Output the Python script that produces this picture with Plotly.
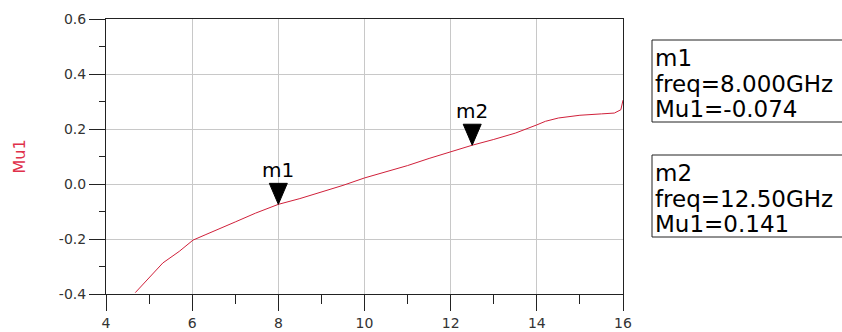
import plotly.graph_objects as go

# Stability factor Mu1 versus frequency (GHz)
freq = [4.68, 5.0, 5.32, 5.7, 6.02, 6.3, 6.68, 7.0, 7.47, 8.0, 8.5, 9.0, 9.5,
        10.0, 10.5, 11.0, 11.5, 12.0, 12.5, 13.0, 13.5, 14.0, 14.2, 14.5,
        15.0, 15.5, 15.8, 15.95, 16.0]
mu1 = [-0.395, -0.34, -0.287, -0.245, -0.204, -0.185, -0.158, -0.138, -0.106,
       -0.074, -0.053, -0.030, -0.005, 0.022, 0.045, 0.067, 0.093, 0.118,
       0.141, 0.162, 0.185, 0.215, 0.228, 0.240, 0.250, 0.255, 0.258, 0.270,
       0.305]

# Markers placed on the trace
marker_names = ["m1", "m2"]
marker_freq = [8.0, 12.5]
marker_mu1 = [-0.074, 0.141]

x_ticks = [4, 6, 8, 10, 12, 14, 16]
x_tick_labels = ["4", "6", "8", "10", "12", "14", "16"]
y_ticks = [-0.4, -0.2, 0.0, 0.2, 0.4, 0.6]
y_tick_labels = ["-0.4", "-0.2", "0.0", "0.2", "0.4", "0.6"]

W, H = 842, 332
L, R, T, B = 106, 219, 19, 38
PW, PH = W - L - R, H - T - B

RED = "#d0203a"
AXIS = "#222222"
GRID = "#c8c8c8"
FONT = "DejaVu Sans"


def paper_x(px):
    return (px - L) / PW


def paper_y(py):
    return (H - B - py) / PH


def fmt_freq(f):
    digits = len(str(int(f)))
    return f"{f:.{4 - digits}f}"


fig = go.Figure()
fig.add_trace(go.Scatter(x=freq, y=mu1, mode="lines",
                         line=dict(color=RED, width=1), hoverinfo="skip"))

shapes = []
annotations = []

for name, f, v in zip(marker_names, marker_freq, marker_mu1):
    # downward triangle whose tip sits on the trace
    shapes.append(dict(type="path", xref="x", yref="y",
                       xsizemode="pixel", ysizemode="pixel",
                       xanchor=f, yanchor=v,
                       path="M -9 21 L 9 21 L 0 0 Z",
                       fillcolor="black", line=dict(color="black", width=1)))
    annotations.append(dict(x=f, y=v, xref="x", yref="y", text=name,
                            showarrow=False, yanchor="bottom", yshift=20,
                            font=dict(family=FONT, size=20, color="black")))

# readout boxes at the right (open past the right edge of the page)
box_tops = [40, 155]
box_h = 82
box_left = 652
line_offsets = [18, 44, 69]
for name, f, v, top in zip(marker_names, marker_freq, marker_mu1, box_tops):
    shapes.append(dict(type="rect", xref="paper", yref="paper",
                       x0=paper_x(box_left), x1=paper_x(W + 40),
                       y0=paper_y(top + box_h), y1=paper_y(top),
                       line=dict(color=AXIS, width=1), fillcolor="white"))
    lines = [name, f"freq={fmt_freq(f)}GHz", f"Mu1={v:.3f}"]
    for text, off in zip(lines, line_offsets):
        annotations.append(dict(x=paper_x(box_left + 1), y=paper_y(top + off),
                                xref="paper", yref="paper", text=text,
                                showarrow=False, xanchor="left",
                                yanchor="middle",
                                font=dict(family=FONT, size=23,
                                          color="black")))

fig.update_layout(
    width=W, height=H,
    margin=dict(l=L, r=R, t=T, b=B, pad=0, autoexpand=False),
    paper_bgcolor="white", plot_bgcolor="white",
    showlegend=False,
    shapes=shapes, annotations=annotations,
    font=dict(family=FONT, size=14, color="#333333"),
)

fig.update_xaxes(
    range=[4, 16], tickvals=x_ticks, ticktext=x_tick_labels,
    automargin=False,
    showgrid=True, gridcolor=GRID, gridwidth=1, zeroline=False,
    showline=True, linecolor=AXIS, linewidth=1, mirror=True,
    ticks="outside", ticklen=16, tickcolor=AXIS, tickwidth=1,
    tickfont=dict(family=FONT, size=14, color="#333333"),
    minor=dict(dtick=1, tick0=4, ticks="outside", ticklen=9,
               tickcolor=AXIS, tickwidth=1, showgrid=False),
)
fig.update_yaxes(
    range=[-0.4, 0.6], tickvals=y_ticks, ticktext=y_tick_labels,
    automargin=False,
    showgrid=True, gridcolor=GRID, gridwidth=1, zeroline=False,
    showline=True, linecolor=AXIS, linewidth=1, mirror=True,
    ticks="outside", ticklen=16, tickcolor=AXIS, tickwidth=1,
    tickfont=dict(family=FONT, size=14, color="#333333"),
    minor=dict(dtick=0.1, tick0=0, ticks="outside", ticklen=6,
               tickcolor=AXIS, tickwidth=1, showgrid=False),
    title=dict(text="Mu1", standoff=29,
               font=dict(family=FONT, size=16, color="#e0304a")),
)

fig.write_html("out.html")
